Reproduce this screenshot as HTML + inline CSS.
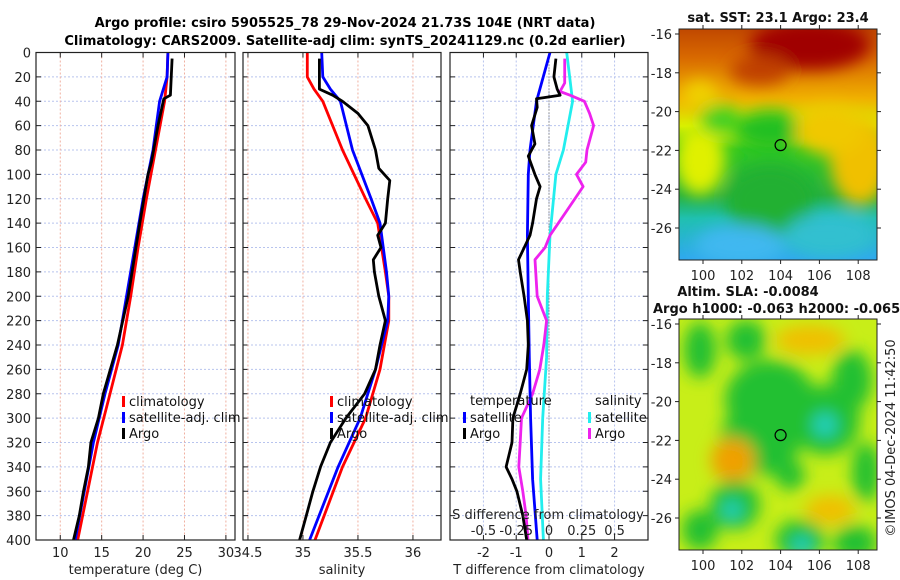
<!DOCTYPE html>
<html><head><meta charset="utf-8"><style>
body{margin:0;background:#fff}
svg{display:block;font-family:"DejaVu Sans","Liberation Sans",sans-serif}
</style></head><body>
<svg id="c" width="900" height="580" xmlns="http://www.w3.org/2000/svg">
<defs>
<filter id="bl" x="-50%" y="-50%" width="200%" height="200%"><feGaussianBlur stdDeviation="8"/></filter>
<clipPath id="m1"><rect x="679" y="29" width="198" height="231"/></clipPath>
<clipPath id="m2"><rect x="679" y="319" width="198" height="231"/></clipPath>
<linearGradient id="sstg" x1="0" y1="0" x2="0" y2="1">
<stop offset="0" stop-color="#c04800"/><stop offset="0.12" stop-color="#d86800"/><stop offset="0.3" stop-color="#f0b000"/><stop offset="0.42" stop-color="#d8f000"/><stop offset="0.52" stop-color="#30c820"/><stop offset="0.72" stop-color="#20b040"/><stop offset="0.82" stop-color="#20c0b0"/><stop offset="1" stop-color="#30a8f0"/>
</linearGradient>
</defs>
<text x="345" y="27" text-anchor="middle" font-weight="bold" font-size="13">Argo profile: csiro 5905525_78 29-Nov-2024 21.73S 104E (NRT data)</text>
<text x="345" y="45" text-anchor="middle" font-weight="bold" font-size="13">Climatology: CARS2009. Satellite-adj clim: synTS_20241129.nc (0.2d earlier)</text>
<g id="plots"></g>
<g id="maps"></g>
</svg>
<script>
// depth levels (m)
const depthClim = [0,20,40,80,120,160,200,240,280,320,360,400];
const tClim = [23.0,22.9,22.6,21.5,20.4,19.4,18.5,17.5,16.0,14.5,13.3,12.1];
const tSat  = [23.0,22.9,22.0,21.2,20.0,19.0,18.0,17.0,15.4,14.0,12.9,11.8];
const depthTArgo = [5,35,38,60,90,100,140,170,200,240,280,300,320,340,360,380,400];
const tArgo = [23.5,23.3,22.5,21.8,21.0,20.6,19.6,18.9,18.2,16.9,15.2,14.6,13.7,13.4,12.8,12.3,11.6];
const depthS = [0,20,30,40,80,120,140,180,200,220,260,300,340,400];
const sClim = [35.04,35.04,35.1,35.18,35.36,35.57,35.68,35.75,35.78,35.78,35.70,35.57,35.36,35.11];
const sSat  = [35.17,35.18,35.25,35.34,35.45,35.62,35.70,35.76,35.78,35.77,35.66,35.52,35.32,35.06];
const depthSArgo = [5,30,35,40,50,60,80,95,105,120,140,150,160,170,180,200,220,240,260,280,300,320,340,360,380,400];
const sArgo = [35.15,35.15,35.27,35.36,35.50,35.59,35.66,35.69,35.79,35.77,35.75,35.68,35.71,35.64,35.65,35.69,35.75,35.70,35.66,35.56,35.39,35.25,35.16,35.09,35.03,34.97];
const depthDT = [0,40,80,100,150,200,250,300,350,400];
const dTSat = [0.03,-0.38,-0.58,-0.63,-0.66,-0.63,-0.6,-0.56,-0.5,-0.36];
const depthDTArgo = [5,20,30,35,38,45,60,75,85,100,110,120,140,150,170,180,200,220,240,260,280,300,320,340,350,360,380,400];
const dTArgo = [0.21,0.15,0.25,0.34,-0.38,-0.36,-0.53,-0.43,-0.63,-0.43,-0.27,-0.38,-0.5,-0.58,-0.93,-0.88,-0.76,-0.66,-0.63,-0.68,-0.88,-1.1,-1.13,-1.31,-1.13,-0.98,-0.8,-0.68];
const dSSat = [0.135,0.18,0.11,0.053,0.008,-0.013,-0.018,-0.048,-0.064,-0.043];
const depthDSArgo = [5,25,32,35,40,50,60,80,90,100,110,130,150,160,170,200,220,240,260,280,300,320,340,360,380,400];
const dSArgo = [0.12,0.12,0.084,0.16,0.27,0.31,0.34,0.29,0.28,0.21,0.26,0.135,0.008,-0.03,-0.107,-0.09,-0.018,-0.04,-0.07,-0.125,-0.21,-0.22,-0.23,-0.2,-0.175,-0.16];
const depthTicks = [0,20,40,60,80,100,120,140,160,180,200,220,240,260,280,300,320,340,360,380,400];
const tTicks = [10,15,20,25,30];
const sTicks = [34.5,35,35.5,36];
const dtTicks = [-2,-1,0,1,2];
const dsTicks = [-0.5,-0.25,0,0.25,0.5];
const dsTickLabels = ['-0.5','-0.25','0','0.25','0.5'];

const NS='http://www.w3.org/2000/svg';
const svg=document.getElementById('plots');
function mk(tag,attrs,parent){const e=document.createElementNS(NS,tag);for(const k in attrs)e.setAttribute(k,attrs[k]);(parent||svg).appendChild(e);return e;}
const Y0=52.5,Y1=540;
const yD=d=>Y0+(Y1-Y0)*d/400;
const panels=[
 {x0:36,x1:235,v0:7.07,v1:31.1,ticks:tTicks,name:'temperature-panel',label:'temperature (deg C)'},
 {x0:243,x1:441,v0:34.455,v1:36.255,ticks:sTicks,name:'salinity-panel',label:'salinity'},
 {x0:450,x1:648,v0:-3.02,v1:3.02,ticks:dtTicks,name:'difference-panel',label:'T difference from climatology'}];
function xf(p){return v=>p.x0+(p.x1-p.x0)*(v-p.v0)/(p.v1-p.v0);}
function line(p,g,vals,deps,col,name,scale){
  const X=xf(p);let s='';
  vals.forEach((v,i)=>{s+=(i?'L':'M')+X(v*(scale||1)).toFixed(1)+','+yD(deps[i]).toFixed(1);});
  const e=mk('path',{d:s,fill:'none',stroke:col,'stroke-width':2.8,'stroke-linejoin':'round'},g);
  
  
}
panels.forEach((p,pi)=>{
  const g=mk('g',{});
  
  
  const X=xf(p);
  depthTicks.forEach(d=>{mk('line',{x1:p.x0,x2:p.x1,y1:yD(d),y2:yD(d),stroke:'#b8c4ee','stroke-width':1,'stroke-dasharray':'2,2'},g);
    mk('line',{x1:p.x0,x2:p.x0+5,y1:yD(d),y2:yD(d),stroke:'#222'},g);
    mk('line',{x1:p.x1-5,x2:p.x1,y1:yD(d),y2:yD(d),stroke:'#222'},g);});
  p.ticks.forEach((t,i)=>{const x=X(t);
    mk('line',{x1:x,x2:x,y1:Y0,y2:Y1,stroke:pi==2?'#b8c4ee':'#f0b0a0','stroke-width':1,'stroke-dasharray':'2,2'},g);
    mk('line',{x1:x,x2:x,y1:Y1-5,y2:Y1,stroke:'#222'},g);
    mk('line',{x1:x,x2:x,y1:Y0,y2:Y0+5,stroke:'#222'},g);
    const tl=mk('text',{x:x,y:557,'text-anchor':'middle','font-size':13,fill:'#222'},g);tl.textContent=String(t);
    
    
  });
  const xl=mk('text',{x:(p.x0+p.x1)/2,y:574,'text-anchor':'middle','font-size':13,fill:'#222'},g);xl.textContent=p.label;
  
  
  p.g=g;
});
depthTicks.forEach(d=>{const t=mk('text',{x:31,y:yD(d)+5,'text-anchor':'end','font-size':13,fill:'#222'});t.textContent=String(d);
  
  });
line(panels[0],panels[0].g,tClim,depthClim,'#ff0000','temp-climatology-line');
line(panels[0],panels[0].g,tSat,depthClim,'#0000ff','temp-satellite-line');
line(panels[0],panels[0].g,tArgo,depthTArgo,'#000','temp-argo-line');
line(panels[1],panels[1].g,sClim,depthS,'#ff0000','sal-climatology-line');
line(panels[1],panels[1].g,sSat,depthS,'#0000ff','sal-satellite-line');
line(panels[1],panels[1].g,sArgo,depthSArgo,'#000','sal-argo-line');
const p3=panels[2];
mk('line',{x1:xf(p3)(0),x2:xf(p3)(0),y1:Y0,y2:Y1,stroke:'#555','stroke-dasharray':'1,2'},p3.g);
line(p3,p3.g,dSSat,depthDT,'#22eeee','sdiff-satellite-line',4);
line(p3,p3.g,dSArgo,depthDSArgo,'#ee22ee','sdiff-argo-line',4);
line(p3,p3.g,dTSat,depthDT,'#0000ff','tdiff-satellite-line');
line(p3,p3.g,dTArgo,depthDTArgo,'#000','tdiff-argo-line');
const st=mk('text',{x:548,y:519,'text-anchor':'middle','font-size':13,fill:'#222'},p3.g);st.textContent='S difference from climatology';


dsTicks.forEach((t,i)=>{const e=mk('text',{x:xf(p3)(t*4),y:535,'text-anchor':'middle','font-size':13,fill:'#222'},p3.g);e.textContent=dsTickLabels[i];
  
  });
panels.forEach(p=>{mk('rect',{x:p.x0,y:Y0,width:p.x1-p.x0,height:Y1-Y0,fill:'none',stroke:'#222','stroke-width':1.2},p.g);});
function leg(g,x,y,col,txt){mk('rect',{x:x,y:y-10,width:3,height:11,fill:col},g);const t=mk('text',{x:x+7,y:y,'font-size':13,fill:'#111'},g);t.textContent=txt;
  
  }
[[panels[0].g,122],[panels[1].g,330]].forEach(([g,x])=>{leg(g,x,406,'#ff0000','climatology');leg(g,x,422,'#0000ff','satellite-adj. clim');leg(g,x,438,'#000','Argo');});
{const g=p3.g;const t1=mk('text',{x:470,y:405,'font-size':13,fill:'#111'},g);t1.textContent='temperature';
 leg(g,463,422,'#0000ff','satellite');leg(g,463,438,'#000','Argo');
 const t2=mk('text',{x:595,y:405,'font-size':13,fill:'#111'},g);t2.textContent='salinity';
 leg(g,588,422,'#22eeee','satellite');leg(g,588,438,'#ee22ee','Argo');}

const M=document.getElementById('maps');
const lonTicks=[100,102,104,106,108];
const latTicks=[-16,-18,-20,-22,-24,-26];
const sstBlobs=[[700,160,25,35,'#e0f000'],[860,160,30,45,'#f0c000'],[810,45,60,25,'#a00000'],[760,70,30,15,'#c04000'],[770,200,45,35,'#20b030'],[740,245,45,20,'#40b8f0'],[830,235,45,22,'#30c0d0'],[720,120,20,15,'#40d020'],[770,130,35,20,'#20c020'],[830,130,35,25,'#f0c800'],[700,95,18,15,'#f0d000']];
const slaBlobs=[[700,350,16,28,'#20c030'],[746,340,20,20,'#20c030'],[770,400,45,40,'#20c030'],[760,440,40,35,'#20c030'],[825,420,35,35,'#20c030'],[825,425,12,12,'#20d0c0'],[733,460,22,22,'#f0a000'],[852,380,20,30,'#20c030'],[810,340,35,15,'#f0c000'],[830,510,25,15,'#f0c000'],[735,505,25,25,'#20c030'],[732,510,10,10,'#20d0c0'],[800,540,25,20,'#20c030'],[802,545,10,8,'#20d0d0'],[855,543,22,18,'#20c030'],[866,472,14,30,'#20c030'],[700,530,18,20,'#20c030'],[790,475,15,15,'#20c030']];
function map(y0,clip,base,blobs,name){
  const g=mk('g',{},M);
  
  
  const c=mk('g',{'clip-path':'url(#'+clip+')'},g);
  mk('rect',{x:679,y:y0,width:198,height:231,fill:base},c);
  const b=mk('g',{filter:'url(#bl)'},c);
  blobs.forEach(o=>mk('ellipse',{cx:o[0],cy:o[1],rx:o[2],ry:o[3],fill:o[4]},b));
  const lx=v=>703+(v-100)*19.4, ly=v=>y0+5+(-16-v)*19.4;
  mk('circle',{cx:lx(104),cy:ly(-21.73),r:5.5,fill:'none',stroke:'#000','stroke-width':1.2},g);
  mk('rect',{x:679,y:y0,width:198,height:231,fill:'none',stroke:'#222'},g);
  lonTicks.forEach(v=>{mk('line',{x1:lx(v),x2:lx(v),y1:y0,y2:y0-4,stroke:'#222'},g);mk('line',{x1:lx(v),x2:lx(v),y1:y0+231,y2:y0+235,stroke:'#222'},g);
    const t=mk('text',{x:lx(v),y:y0+251,'text-anchor':'middle','font-size':13,fill:'#222'},g);t.textContent=String(v);
    
    });
  latTicks.forEach(v=>{mk('line',{x1:679,x2:675,y1:ly(v),y2:ly(v),stroke:'#222'},g);mk('line',{x1:877,x2:881,y1:ly(v),y2:ly(v),stroke:'#222'},g);
    const t=mk('text',{x:672,y:ly(v)+5,'text-anchor':'end','font-size':13,fill:'#222'},g);t.textContent=String(v);
    
    });
}
map(29,'m1','url(#sstg)',sstBlobs,'sst-map');
map(319,'m2','#c8ee18',slaBlobs,'sla-map');
function tx(x,y,s,anchor,name){const t=mk('text',{x:x,y:y,'text-anchor':anchor,'font-size':13,'font-weight':'bold',fill:'#111'},M);t.textContent=s;
  
  }
tx(778,22,'sat. SST: 23.1 Argo: 23.4','middle','sst-map-title');
tx(748,296,'Altim. SLA: -0.0084','middle','sla-map-title');
tx(653,313,'Argo h1000: -0.063 h2000: -0.065','start','sla-argo-heights');
{const t=mk('text',{x:0,y:0,'text-anchor':'middle','font-size':13,fill:'#222',transform:'translate(895,438) rotate(-90)'},M);t.textContent='©IMOS 04-Dec-2024 11:42:50';
 
 }
</script>
</body></html>
